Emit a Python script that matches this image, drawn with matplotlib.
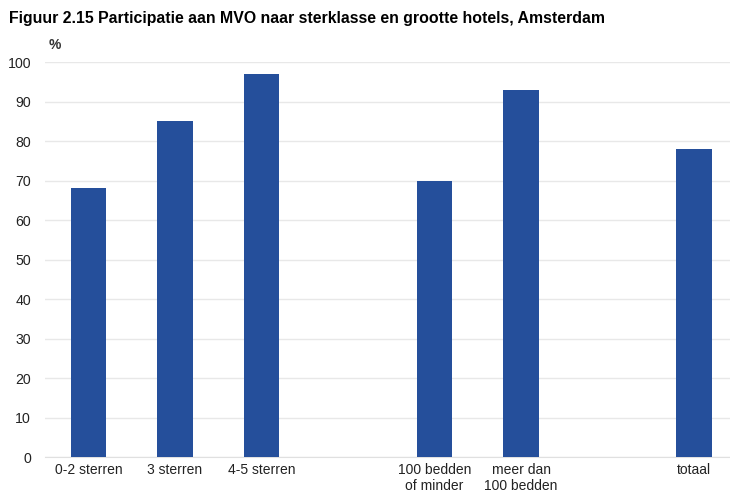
import numpy as np
import matplotlib.pyplot as plt

plt.rcParams['font.family'] = ['Liberation Sans', 'DejaVu Sans']

labels = ["0-2 sterren", "3 sterren", "4-5 sterren",
          "100 bedden\nof minder", "meer dan\n100 bedden", "totaal"]
positions = [0, 1, 2, 4, 5, 7]
values = [68, 85, 97, 70, 93, 78]

fig = plt.figure(figsize=(7.3, 4.93), dpi=100)
ax = fig.add_axes([0.0616, 0.073, 0.9384, 0.801])

ax.bar(positions, values, width=0.41, color="#254F9B", zorder=3)

ax.set_xlim(-0.503, 7.416)
ax.set_ylim(0, 100)
ax.set_yticks(np.arange(0, 101, 10))
ax.set_xticks(positions)
ax.set_xticklabels(labels, fontsize=10, color="#222222", linespacing=1.2)
ax.tick_params(axis="y", labelsize=10.2, colors="#222222", length=0, pad=10)
ax.tick_params(axis="x", length=0, pad=4)
ax.grid(axis="y", color="#E8E8E8", linewidth=1, zorder=0)
for s in ["top", "right", "left"]:
    ax.spines[s].set_visible(False)
ax.spines["bottom"].set_color("#E0E0E0")

fig.text(0.013, 0.962, "Figuur 2.15 Participatie aan MVO naar sterklasse en grootte hotels, Amsterdam",
         fontsize=11.4, fontweight="bold", va="center", ha="left")
fig.text(0.066, 0.908, "%", fontsize=10, fontweight="bold", color="#333333", va="center")

fig.savefig("out.png", dpi=100)
